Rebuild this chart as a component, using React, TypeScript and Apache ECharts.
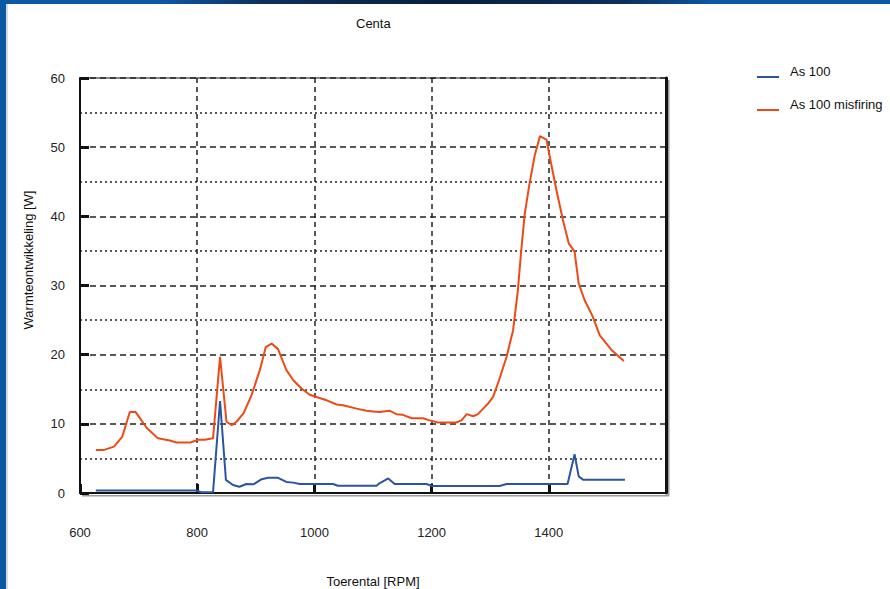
import React, { useEffect, useRef } from "react";
import * as echarts from "echarts";

const titleText = "Centa";
const xName = "Toerental [RPM]";
const yName = "Warmteontwikkeling [W]";
const seriesNames = ["As 100", "As 100 misfiring"];

const blueRpm = [627, 799, 807, 827, 839, 849, 861, 872, 884, 896, 910, 921, 938, 952, 964, 975, 1032, 1040, 1106, 1111, 1126, 1137, 1191, 1202, 1316, 1328, 1432, 1444, 1451, 1459, 1530];
const blueW = [0.35, 0.35, 0.1, 0.1, 13.3, 1.9, 1.15, 0.9, 1.3, 1.25, 2.0, 2.2, 2.2, 1.6, 1.5, 1.3, 1.3, 1.05, 1.05, 1.4, 2.1, 1.3, 1.3, 1.0, 1.0, 1.3, 1.3, 5.6, 2.4, 1.9, 1.9];

const redRpm = [627, 640, 658, 672, 685, 695, 714, 733, 753, 765, 788, 802, 813, 827, 839, 850, 859, 867, 879, 893, 907, 917, 927, 938, 952, 964, 978, 992, 1006, 1021, 1038, 1049, 1072, 1089, 1100, 1111, 1128, 1140, 1151, 1166, 1185, 1197, 1211, 1242, 1251, 1260, 1271, 1279, 1288, 1296, 1305, 1315, 1328, 1339, 1347, 1353, 1359, 1367, 1376, 1385, 1396, 1404, 1413, 1424, 1434, 1444, 1451, 1461, 1475, 1487, 1508, 1528];
const redW = [6.2, 6.2, 6.7, 8.1, 11.7, 11.7, 9.4, 7.9, 7.6, 7.3, 7.3, 7.7, 7.7, 7.9, 19.7, 10.3, 9.8, 10.3, 11.5, 14.2, 17.8, 21.1, 21.6, 20.8, 17.8, 16.3, 15.1, 14.2, 13.8, 13.4, 12.8, 12.7, 12.2, 11.9, 11.8, 11.7, 11.9, 11.4, 11.3, 10.8, 10.8, 10.5, 10.2, 10.2, 10.5, 11.4, 11.1, 11.4, 12.2, 12.9, 13.9, 16.3, 19.7, 23.5, 29.1, 35.1, 40.4, 44.7, 48.8, 51.6, 51.1, 47.6, 43.8, 39.5, 36.1, 34.9, 30.3, 27.9, 25.5, 22.8, 20.6, 19.1];

const FONT = "'Liberation Sans', Arial, sans-serif";
const LEGEND_ICON = "path://M0,0L22,0L22,0.01L0,0.01Z M0,12L22,12L22,14L0,14Z";

export default function App() {
  const ref = useRef<HTMLDivElement>(null);
  useEffect(() => {
    if (!ref.current) return;
    const chart = echarts.init(ref.current, null, { renderer: "svg" });
    const blueData = blueRpm.map((x, i) => [x, blueW[i]]);
    const redData = redRpm.map((x, i) => [x, redW[i]]);
    chart.setOption({
      animation: false,
      backgroundColor: "#ffffff",
      title: {
        text: titleText,
        left: 351,
        top: 12,
        textStyle: { fontFamily: FONT, fontSize: 13, fontWeight: "normal", color: "#111" },
      },
      legend: {
        orient: "vertical",
        left: 757,
        top: 64,
        padding: 0,
        itemGap: 19,
        itemWidth: 22,
        itemHeight: 14,
        icon: LEGEND_ICON,
        data: seriesNames,
        textStyle: { fontFamily: FONT, fontSize: 13, color: "#111", padding: [0, 0, 0, 6] },
      },
      grid: {
        left: 80,
        top: 78,
        right: 224,
        bottom: 96,
        outerBoundsMode: "none",
        containLabel: false,
        show: true,
        borderColor: "#111",
        borderWidth: 1,
        backgroundColor: "transparent",
      },
      xAxis: {
        type: "value",
        min: 600,
        max: 1600,
        interval: 200,
        name: xName,
        nameLocation: "middle",
        nameGap: 82,
        nameTextStyle: { fontFamily: FONT, fontSize: 13, color: "#111", verticalAlign: "top" },
        axisLine: { show: true, lineStyle: { color: "#111", width: 2 } },
        axisTick: { show: true, inside: true, length: 9, lineStyle: { color: "#111", width: 3 } },
        axisLabel: {
          margin: 33,
          fontFamily: FONT,
          fontSize: 13,
          color: "#222",
          showMaxLabel: false,
          formatter: (v: number) => String(v),
        },
        splitLine: { show: true, lineStyle: { color: "#222", width: 1.5, type: [5, 4] } },
      },
      yAxis: [
        {
          type: "value",
          min: 0,
          max: 60,
          interval: 10,
          axisLine: { show: true, lineStyle: { color: "#111", width: 2 } },
          axisTick: { show: true, inside: true, length: 9, lineStyle: { color: "#111", width: 3 } },
          axisLabel: { margin: 15, fontFamily: FONT, fontSize: 13, color: "#222" },
          splitLine: { show: true, lineStyle: { color: "#222", width: 1.5, type: [6, 4] } },
          minorTick: { show: false, splitNumber: 2 },
          minorSplitLine: { show: true, lineStyle: { color: "#222", width: 1.5, type: [2, 3] } },
        },
        {
          type: "value",
          position: "right",
          min: 0,
          max: 60,
          interval: 10,
          axisLine: { show: true, lineStyle: { color: "#111", width: 3 } },
          axisTick: { show: false },
          axisLabel: { show: false },
          splitLine: { show: false },
        },
      ],
      graphic: [
        {
          type: "rect",
          left: 0,
          top: 0,
          shape: { width: 890, height: 4 },
          style: {
            fill: new echarts.graphic.LinearGradient(0, 0, 1, 0, [
              { offset: 0, color: "#0b58a3" },
              { offset: 0.18, color: "#0b58a3" },
              { offset: 0.3, color: "#0c2f5c" },
              { offset: 0.5, color: "#08203e" },
              { offset: 0.7, color: "#0c2f5c" },
              { offset: 0.8, color: "#0b58a3" },
              { offset: 1, color: "#0b58a3" },
            ]),
          },
          silent: true,
        },
        { type: "rect", left: 0, top: 0, shape: { width: 6, height: 589 }, style: { fill: "#0b58a3" }, silent: true },
        { type: "rect", left: 6, top: 4, shape: { width: 2, height: 585 }, style: { fill: "#d8dde4" }, silent: true },
        { type: "rect", left: 668, top: 80, shape: { width: 1.5, height: 416 }, style: { fill: "#9a9a9a" }, silent: true },
        { type: "rect", left: 82, top: 495, shape: { width: 587, height: 1.5 }, style: { fill: "#9a9a9a" }, silent: true },
        {
          type: "text",
          x: 28,
          y: 260,
          rotation: Math.PI / 2,
          style: {
            text: yName,
            fontFamily: FONT,
            fontSize: 13,
            fill: "#111",
            textAlign: "center",
            textVerticalAlign: "middle",
          },
          silent: true,
        },
      ],
      series: [
        {
          name: seriesNames[0],
          type: "line",
          data: blueData,
          showSymbol: false,
          color: "#2b55a3",
          lineStyle: { color: "#2b55a3", width: 2 },
          z: 3,
        },
        {
          name: seriesNames[1],
          type: "line",
          data: redData,
          showSymbol: false,
          color: "#ee4a16",
          lineStyle: { color: "#ee4a16", width: 2 },
          z: 4,
        },
      ],
    });
    return () => chart.dispose();
  }, []);
  return (
    <div
      ref={ref}
      style={{ position: "fixed", left: 0, top: 0, width: 890, height: 589 }}
    />
  );
}
